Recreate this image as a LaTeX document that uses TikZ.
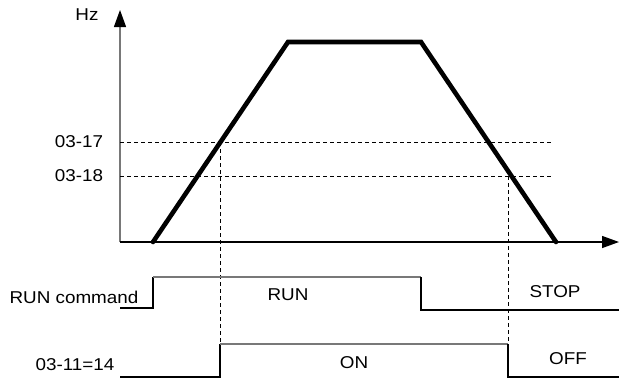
\documentclass[tikz,border=0pt]{standalone}
\usepackage{fontspec}
\setmainfont{Liberation Sans}[FakeStretch=1.1]
\usetikzlibrary{arrows.meta}
\definecolor{sigGray}{RGB}{120,120,120}

\begin{document}
\begin{tikzpicture}[x=1bp,y=-1bp,font=\fontsize{17.2}{20}\selectfont,
    axis/.style={line width=1.3bp,-{Triangle[length=17bp,width=12bp,color=black]}},
    ramp/.style={line width=4.6bp,line join=miter,line cap=round},
    guide/.style={dash pattern=on 4bp off 3bp,line width=0.8bp},
    sig/.style={line width=1.3bp},
    lbl/.style={inner sep=0pt,anchor=center}]
    \useasboundingbox (0,0) rectangle (619,378);

    % axes
    \coordinate (o) at (120,242);
    \coordinate (ytip) at (120,10);
    \coordinate (xtip) at (619,242);
    \draw[axis,draw=sigGray] (o) -- (ytip);
    \draw[axis] (o) -- (xtip);
    \node[lbl] (hz) at (87,15) {Hz};

    % levels 03-17 / 03-18
    \node[lbl] (l17) at (79,142) {03-17};
    \node[lbl] (l18) at (79,176) {03-18};
    \coordinate (h17) at (120,142);
    \coordinate (h18) at (120,176);
    \coordinate (c17) at (220,142);
    \coordinate (c18) at (508,176);
    \draw[guide] (h17) -- (553,142);
    \draw[guide] (h18) -- (553,176);
    \draw[guide] (c17) -- (220,373);
    \draw[guide] (c18) -- (508,373);

    % frequency ramp
    \coordinate (r0) at (153,242);
    \coordinate (r1) at (288,42);
    \coordinate (r2) at (421,42);
    \coordinate (r3) at (556,242);
    \draw[ramp] (r0) -- (r1) -- (r2) -- (r3);

    % RUN command
    \node[lbl] (runcmd) at (74,297) {RUN command};
    \draw[sig] (120,308) -- (153,308) -- (153,277);
    \draw[sig,draw=sigGray] (153,277) -- (421,277);
    \draw[sig] (421,277) -- (421,310) -- (619,310);
    \node[lbl] (run) at (288,295) {RUN};
    \node[lbl] (stop) at (555,292) {STOP};

    % output 03-11=14
    \node[lbl] (out) at (75,365) {03-11=14};
    \draw[sig] (120,377) -- (220,377) -- (220,344);
    \draw[sig,draw=sigGray] (220,344) -- (508,344);
    \draw[sig] (508,344) -- (508,377) -- (619,377);
    \node[lbl] (on) at (354,363) {ON};
    \node[lbl] (off) at (568,359) {OFF};
\end{tikzpicture}
\end{document}
